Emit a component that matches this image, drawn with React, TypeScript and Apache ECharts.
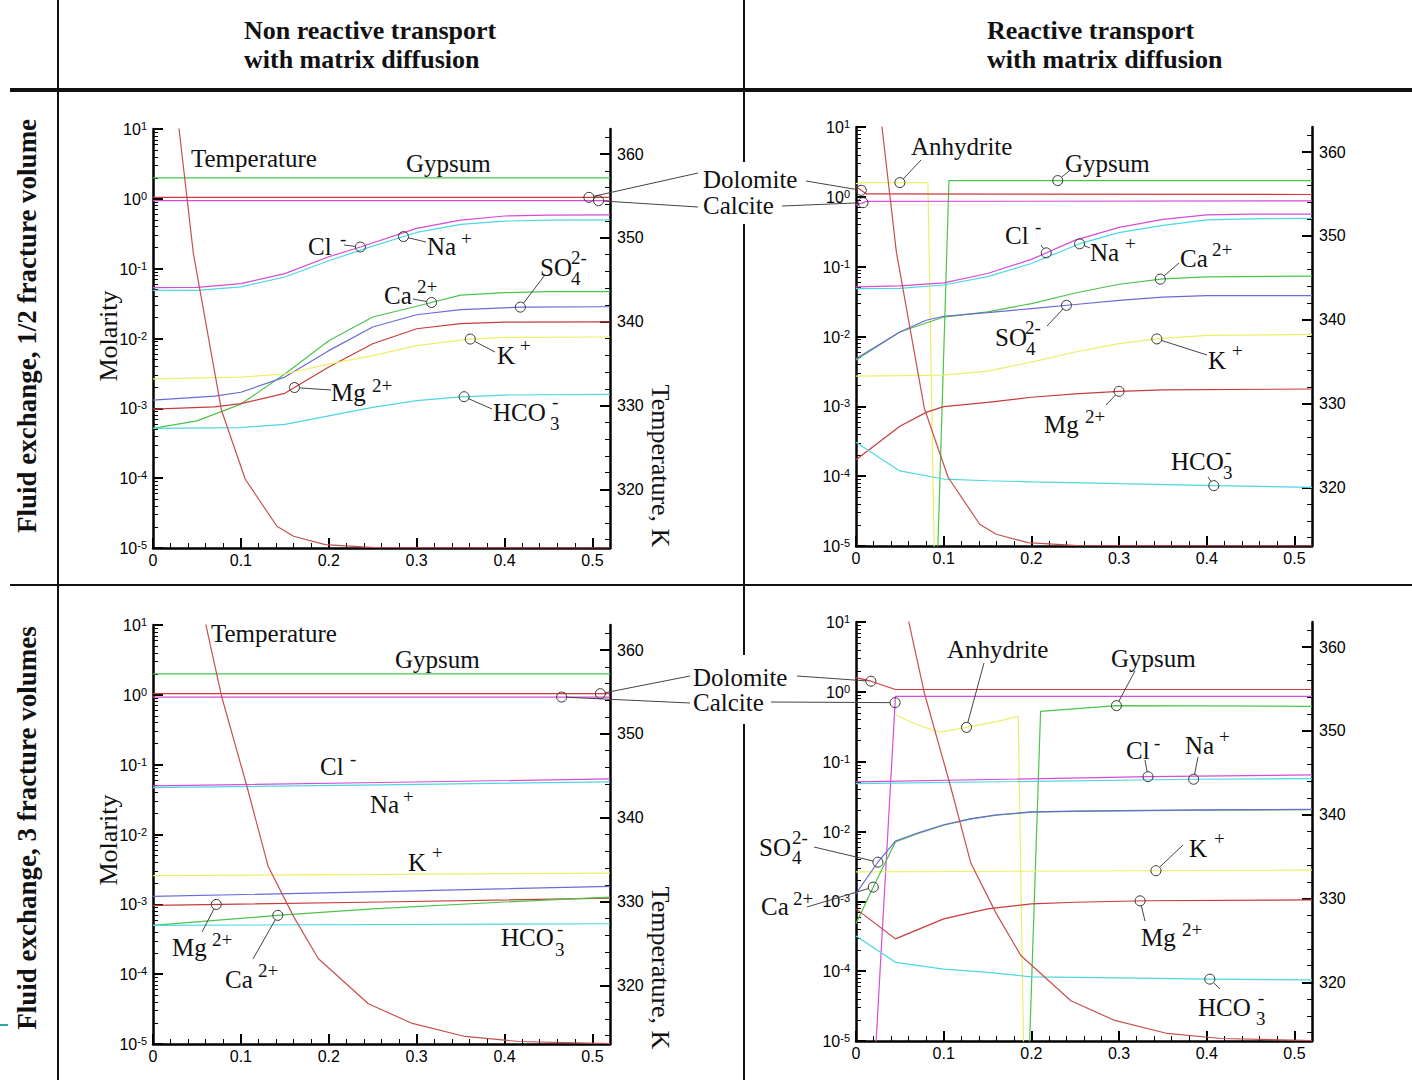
import React, { useEffect, useRef } from "react";
import * as echarts from "echarts";

type Pt = [number, number];

// ---------------- Temperature (K) ----------------
const tempTop: Pt[] = [[0, 390], [0.046, 348.1], [0.078, 329.4], [0.105, 321.2], [0.141, 315.6], [0.16, 314.4], [0.196, 313.4], [0.253, 313.05], [0.52, 313.0]];
const tempBottom: Pt[] = [[0, 420], [0.03, 385], [0.06, 363.1], [0.078, 354.5], [0.107, 343.7], [0.131, 334.2], [0.16, 328.2], [0.188, 323.2], [0.245, 317.8], [0.294, 315.5], [0.355, 313.9], [0.416, 313.3], [0.52, 313.05]];

// ---------------- Top-left: non reactive, 1/2 fracture volume ----------------
const p1Gypsum: Pt[] = [[0, 2.0], [0.52, 2.0]];
const p1Dolomite: Pt[] = [[0, 1.05], [0.52, 1.05]];
const p1Calcite: Pt[] = [[0, 0.94], [0.52, 0.94]];
const p1Cl: Pt[] = [[0, 0.0535], [0.05, 0.054], [0.1, 0.061], [0.15, 0.085], [0.2, 0.148], [0.237, 0.206], [0.3, 0.377], [0.35, 0.497], [0.4, 0.568], [0.45, 0.585], [0.52, 0.59]];
const p1Na: Pt[] = [[0, 0.049], [0.05, 0.049], [0.1, 0.055], [0.15, 0.076], [0.2, 0.13], [0.25, 0.21], [0.3, 0.33], [0.35, 0.43], [0.4, 0.48], [0.45, 0.495], [0.52, 0.5]];
const p1Ca: Pt[] = [[0, 5.15e-4], [0.05, 6.6e-4], [0.1, 1.15e-3], [0.15, 3.1e-3], [0.2, 9.3e-3], [0.25, 0.0203], [0.3, 0.029], [0.35, 0.0417], [0.4, 0.0454], [0.45, 0.047], [0.52, 0.047]];
const p1SO4: Pt[] = [[0, 1.31e-3], [0.07, 1.5e-3], [0.1, 1.7e-3], [0.15, 2.8e-3], [0.2, 6.7e-3], [0.25, 0.0146], [0.3, 0.0219], [0.35, 0.0259], [0.42, 0.0282], [0.52, 0.0285]];
const p1Mg: Pt[] = [[0, 9.75e-4], [0.07, 1.05e-3], [0.1, 1.17e-3], [0.15, 1.64e-3], [0.2, 3.9e-3], [0.25, 8.4e-3], [0.3, 0.0138], [0.35, 0.0163], [0.4, 0.0172], [0.52, 0.0173]];
const p1K: Pt[] = [[0, 2.64e-3], [0.1, 2.8e-3], [0.15, 3.1e-3], [0.2, 4.3e-3], [0.25, 5.7e-3], [0.3, 7.9e-3], [0.36, 9.8e-3], [0.4, 0.0104], [0.52, 0.0105]];
const p1HCO3: Pt[] = [[0, 5.15e-4], [0.1, 5.3e-4], [0.15, 5.9e-4], [0.2, 7.8e-4], [0.25, 1.03e-3], [0.3, 1.29e-3], [0.35, 1.46e-3], [0.4, 1.55e-3], [0.52, 1.58e-3]];

// ---------------- Top-right: reactive, 1/2 fracture volume ----------------
const p2Gypsum: Pt[] = [[0.091, 1e-6], [0.106, 1.71], [0.52, 1.71]];
const p2Anhydrite: Pt[] = [[0, 1.55], [0.01, 1.6], [0.082, 1.6], [0.0905, 1e-6]];
const p2Dolomite: Pt[] = [[0, 1.4], [0.012, 1.1], [0.52, 1.08]];
const p2Calcite: Pt[] = [[0, 0.76], [0.012, 0.86], [0.52, 0.875]];
const p2Cl: Pt[] = [[0, 0.0514], [0.05, 0.053], [0.1, 0.0586], [0.15, 0.0798], [0.2, 0.127], [0.25, 0.24], [0.3, 0.366], [0.35, 0.476], [0.4, 0.55], [0.45, 0.565], [0.52, 0.565]];
const p2Na: Pt[] = [[0, 0.0486], [0.05, 0.049], [0.1, 0.0546], [0.15, 0.072], [0.2, 0.111], [0.256, 0.215], [0.3, 0.307], [0.35, 0.39], [0.4, 0.467], [0.45, 0.485], [0.52, 0.49]];
const p2Ca: Pt[] = [[0, 4.6e-3], [0.05, 0.0116], [0.1, 0.019], [0.15, 0.0225], [0.2, 0.0296], [0.25, 0.042], [0.3, 0.056], [0.35, 0.067], [0.4, 0.0715], [0.52, 0.073]];
const p2SO4: Pt[] = [[0, 4.8e-3], [0.05, 0.0116], [0.08, 0.0171], [0.1, 0.0195], [0.15, 0.022], [0.2, 0.0251], [0.25, 0.0287], [0.3, 0.033], [0.35, 0.0366], [0.4, 0.0385], [0.52, 0.0385]];
const p2K: Pt[] = [[0, 2.7e-3], [0.1, 2.8e-3], [0.15, 3.2e-3], [0.2, 4.3e-3], [0.25, 6.0e-3], [0.3, 7.9e-3], [0.345, 9.3e-3], [0.4, 0.0104], [0.52, 0.0107]];
const p2Mg: Pt[] = [[0, 1.72e-4], [0.05, 5.2e-4], [0.08, 8.2e-4], [0.1, 9.9e-4], [0.15, 1.14e-3], [0.2, 1.35e-3], [0.25, 1.51e-3], [0.3, 1.64e-3], [0.35, 1.72e-3], [0.52, 1.77e-3]];
const p2HCO3: Pt[] = [[0, 3.05e-4], [0.05, 1.19e-4], [0.1, 9.1e-5], [0.15, 8.6e-5], [0.2, 8.3e-5], [0.3, 7.8e-5], [0.41, 7.3e-5], [0.52, 6.9e-5]];

// ---------------- Bottom-left: non reactive, 3 fracture volumes ----------------
const p3Gypsum: Pt[] = [[0, 2.0], [0.52, 2.0]];
const p3Dolomite: Pt[] = [[0, 1.04], [0.52, 1.04]];
const p3Calcite: Pt[] = [[0, 0.93], [0.52, 0.93]];
const p3Cl: Pt[] = [[0, 0.0497], [0.26, 0.0555], [0.52, 0.0625]];
const p3Na: Pt[] = [[0, 0.047], [0.26, 0.0515], [0.52, 0.0566]];
const p3K: Pt[] = [[0, 2.57e-3], [0.52, 2.8e-3]];
const p3SO4: Pt[] = [[0, 1.3e-3], [0.26, 1.52e-3], [0.52, 1.81e-3]];
const p3Mg: Pt[] = [[0, 9.66e-4], [0.26, 1.08e-3], [0.52, 1.23e-3]];
const p3Ca: Pt[] = [[0, 4.99e-4], [0.145, 7.0e-4], [0.25, 8.6e-4], [0.4, 1.08e-3], [0.52, 1.27e-3]];
const p3HCO3: Pt[] = [[0, 5.0e-4], [0.52, 5.27e-4]];

// ---------------- Bottom-right: reactive, 3 fracture volumes ----------------
const p4Dolomite: Pt[] = [[0, 1.6], [0.017, 1.42], [0.045, 1.08], [0.52, 1.08]];
const p4Calcite: Pt[] = [[0.0185, 1e-6], [0.045, 0.86], [0.52, 0.86]];
const p4Anhydrite: Pt[] = [[0.045, 0.47], [0.07, 0.338], [0.095, 0.265], [0.126, 0.31], [0.162, 0.377], [0.185, 0.445], [0.1923, 1e-6]];
const p4Gypsum: Pt[] = [[0.1954, 1e-6], [0.2105, 0.526], [0.297, 0.634], [0.52, 0.62]];
const p4Cl: Pt[] = [[0, 0.0513], [0.335, 0.061], [0.52, 0.0646]];
const p4Na: Pt[] = [[0, 0.0485], [0.385, 0.056], [0.52, 0.057]];
const p4Ca: Pt[] = [[0, 4.8e-4], [0.0197, 1.6e-3], [0.045, 7.1e-3], [0.07, 9.3e-3], [0.1, 0.0123], [0.13, 0.015], [0.16, 0.0171], [0.2, 0.0189], [0.25, 0.0194], [0.3, 0.0197], [0.4, 0.0202], [0.52, 0.0205]];
const p4SO4: Pt[] = [[0, 1.29e-3], [0.0247, 3.6e-3], [0.045, 7.3e-3], [0.07, 9.5e-3], [0.1, 0.0125], [0.13, 0.0152], [0.16, 0.0173], [0.2, 0.0191], [0.25, 0.0196], [0.3, 0.0199], [0.4, 0.0204], [0.52, 0.0207]];
const p4K: Pt[] = [[0, 2.64e-3], [0.52, 2.8e-3]];
const p4Mg: Pt[] = [[0, 7.8e-4], [0.045, 2.9e-4], [0.1, 5.6e-4], [0.15, 7.8e-4], [0.2, 9.2e-4], [0.25, 9.7e-4], [0.33, 1.02e-3], [0.52, 1.05e-3]];
const p4HCO3: Pt[] = [[0, 3.2e-4], [0.045, 1.34e-4], [0.1, 1.07e-4], [0.15, 9.6e-5], [0.2, 8.3e-5], [0.3, 8.0e-5], [0.4, 7.7e-5], [0.52, 7.5e-5]];

// ---------------- Axis ticks ----------------
const X_MAJOR = [0, 0.1, 0.2, 0.3, 0.4, 0.5];
const DECADES = [1e-5, 1e-4, 1e-3, 1e-2, 1e-1, 1, 10];
const T_MAJOR = [320, 330, 340, 350, 360];
const X_MINOR: number[] = [];
for (let i = 1; i < 26; i++) if (i % 5 !== 0) X_MINOR.push(+(i * 0.02).toFixed(2));
const LOG_MINOR: number[] = [];
for (let d = -5; d <= 0; d++) for (let m = 2; m <= 9; m++) LOG_MINOR.push(+(m * Math.pow(10, d)).toPrecision(3));
const T_MINOR: number[] = [];
for (let t = 314; t <= 362; t += 2) if (t % 10 !== 0) T_MINOR.push(t);

const C = {
  temp: "#c65050",
  gyp: "#4cc44c",
  dol: "#d03a3a",
  cal: "#d84ad8",
  cl: "#d84ad8",
  na: "#4cd8e0",
  ca: "#4cc44c",
  so4: "#6a6ad8",
  k: "#eeee6a",
  mg: "#c83c3c",
  hco3: "#4cd8e0",
  anh: "#eeee6a",
};

const PANELS = [
  { left: 153, top: 129, width: 457, height: 419 },
  { left: 856, top: 127, width: 456, height: 419 },
  { left: 153, top: 625, width: 457, height: 419 },
  { left: 856, top: 622, width: 456, height: 419 },
];

type SDef = [string, Pt[], string, boolean?];
const PANEL_SERIES: SDef[][] = [
  [["gyp", p1Gypsum, C.gyp], ["dol", p1Dolomite, C.dol], ["cal", p1Calcite, C.cal], ["na", p1Na, C.na], ["cl", p1Cl, C.cl], ["ca", p1Ca, C.ca], ["so4", p1SO4, C.so4], ["mg", p1Mg, C.mg], ["k", p1K, C.k], ["hco3", p1HCO3, C.hco3], ["temp", tempTop, C.temp, true]],
  [["gyp", p2Gypsum, C.gyp], ["anh", p2Anhydrite, C.anh], ["dol", p2Dolomite, C.dol], ["cal", p2Calcite, C.cal], ["na", p2Na, C.na], ["cl", p2Cl, C.cl], ["ca", p2Ca, C.ca], ["so4", p2SO4, C.so4], ["k", p2K, C.k], ["mg", p2Mg, C.mg], ["hco3", p2HCO3, C.hco3], ["temp", tempTop, C.temp, true]],
  [["gyp", p3Gypsum, C.gyp], ["dol", p3Dolomite, C.dol], ["cal", p3Calcite, C.cal], ["na", p3Na, C.na], ["cl", p3Cl, C.cl], ["k", p3K, C.k], ["so4", p3SO4, C.so4], ["mg", p3Mg, C.mg], ["ca", p3Ca, C.ca], ["hco3", p3HCO3, C.hco3], ["temp", tempBottom, C.temp, true]],
  [["dol", p4Dolomite, C.dol], ["cal", p4Calcite, C.cal], ["anh", p4Anhydrite, C.anh], ["gyp", p4Gypsum, C.gyp], ["na", p4Na, C.na], ["cl", p4Cl, C.cl], ["k", p4K, C.k], ["ca", p4Ca, C.ca], ["so4", p4SO4, C.so4], ["mg", p4Mg, C.mg], ["hco3", p4HCO3, C.hco3], ["temp", tempBottom, C.temp, true]],
];

// annotation texts: [text, left x, middle y, kind]
const TEXTS: [string, number, number, string][] = [
  ["Temperature", 191, 158, "m"], ["Gypsum", 406, 163, "m"],
  ["Cl", 308, 246, "m"], ["-", 340, 238, "s"],
  ["Na", 427, 246, "m"], ["+", 461, 238, "s"],
  ["Ca", 384, 295, "m"], ["2+", 417, 286, "s"],
  ["SO", 540, 267, "m"], ["4", 571, 278, "s"], ["2-", 571, 257, "s"],
  ["K", 497, 355, "m"], ["+", 520, 345, "s"],
  ["Mg", 331, 392, "m"], ["2+", 372, 385, "s"],
  ["HCO", 493, 412, "m"], ["3", 550, 423, "s"], ["-", 552, 401, "s"],
  ["Dolomite", 703, 179, "m"], ["Calcite", 703, 205, "m"],
  ["Anhydrite", 911, 146, "m"], ["Gypsum", 1065, 163, "m"],
  ["Cl", 1005, 235, "m"], ["-", 1035, 226, "s"],
  ["Na", 1090, 252, "m"], ["+", 1125, 243, "s"],
  ["Ca", 1180, 258, "m"], ["2+", 1212, 249, "s"],
  ["SO", 995, 337, "m"], ["4", 1026, 348, "s"], ["2-", 1025, 327, "s"],
  ["K", 1208, 360, "m"], ["+", 1232, 350, "s"],
  ["Mg", 1044, 424, "m"], ["2+", 1085, 416, "s"],
  ["HCO", 1171, 461, "m"], ["3", 1223, 472, "s"], ["-", 1225, 451, "s"],
  ["Temperature", 211, 633, "m"], ["Gypsum", 395, 659, "m"],
  ["Dolomite", 693, 677, "m"], ["Calcite", 693, 702, "m"],
  ["Cl", 320, 766, "m"], ["-", 350, 758, "s"],
  ["Na", 370, 804, "m"], ["+", 403, 796, "s"],
  ["K", 408, 862, "m"], ["+", 432, 852, "s"],
  ["Mg", 172, 947, "m"], ["2+", 212, 939, "s"],
  ["Ca", 225, 979, "m"], ["2+", 258, 970, "s"],
  ["HCO", 501, 937, "m"], ["3", 555, 949, "s"], ["-", 557, 928, "s"],
  ["Anhydrite", 947, 649, "m"], ["Gypsum", 1111, 658, "m"],
  ["Cl", 1126, 750, "m"], ["-", 1154, 742, "s"],
  ["Na", 1185, 745, "m"], ["+", 1219, 736, "s"],
  ["SO", 759, 847, "m"], ["4", 792, 857, "s"], ["2-", 792, 837, "s"],
  ["Ca", 761, 906, "m"], ["2+", 793, 898, "s"],
  ["K", 1189, 848, "m"], ["+", 1214, 838, "s"],
  ["Mg", 1141, 937, "m"], ["2+", 1182, 929, "s"],
  ["HCO", 1198, 1007, "m"], ["3", 1256, 1018, "s"], ["-", 1258, 997, "s"],
];

// markers: [panel, series key, x value, leader end x, leader end y]
const MARKS: [number, string, number, number, number][] = [
  [0, "dol", 0.496, 698, 173], [0, "cal", 0.507, 698, 207],
  [1, "dol", 0.006, 806, 181], [1, "cal", 0.008, 782, 206],
  [0, "cl", 0.236, 344, 245], [0, "na", 0.285, 426, 242], [0, "ca", 0.317, 413, 299], [0, "so4", 0.418, 545, 275],
  [0, "k", 0.361, 495, 352], [0, "mg", 0.161, 331, 390], [0, "hco3", 0.354, 492, 409],
  [1, "anh", 0.05, 921, 160], [1, "gyp", 0.23, 1069, 171], [1, "cl", 0.217, 1041, 245], [1, "na", 0.255, 1090, 248],
  [1, "ca", 0.347, 1179, 263], [1, "so4", 0.24, 1047, 326], [1, "k", 0.343, 1207, 355], [1, "mg", 0.3, 1106, 405], [1, "hco3", 0.408, 1208, 477],
  [2, "dol", 0.509, 690, 676], [2, "cal", 0.465, 690, 703],
  [3, "dol", 0.017, 797, 676], [3, "cal", 0.0446, 771, 702],
  [2, "mg", 0.072, 202, 932], [2, "ca", 0.142, 253, 959],
  [3, "anh", 0.126, 984, 663], [3, "gyp", 0.297, 1135, 671], [3, "cl", 0.333, 1145, 760], [3, "na", 0.385, 1198, 757],
  [3, "so4", 0.025, 814, 847], [3, "ca", 0.0197, 807, 907], [3, "k", 0.342, 1183, 845], [3, "mg", 0.324, 1145, 921], [3, "hco3", 0.4035, 1220, 989],
];

const SERIF = '"Liberation Serif", "Times New Roman", Times, serif';
const SANS = '"Liberation Sans", Arial, Helvetica, sans-serif';

function valueAt(data: Pt[], x: number): number {
  for (let i = 0; i < data.length - 1; i++) {
    const [x0, y0] = data[i];
    const [x1, y1] = data[i + 1];
    if (x >= x0 && x <= x1) {
      const t = (x - x0) / (x1 - x0);
      return Math.pow(10, Math.log10(y0) + t * (Math.log10(y1) - Math.log10(y0)));
    }
  }
  return data[data.length - 1][1];
}

function lineEl(x1: number, y1: number, x2: number, y2: number, w: number, color = "#111") {
  return { type: "line", silent: true, z: 100, shape: { x1, y1, x2, y2 }, style: { stroke: color, lineWidth: w } };
}

function textEl(text: string, x: number, y: number, size: number, opts: any = {}) {
  const align = opts.align || "left";
  return {
    type: "text",
    silent: true,
    z: 101,
    x,
    y,
    rotation: opts.rotation || 0,
    style: {
      text,
      fontSize: size,
      lineHeight: size,
      fontFamily: opts.family || SERIF,
      fontWeight: opts.bold ? "bold" : "normal",
      fill: "#111",
      textAlign: align,
      align,
      textVerticalAlign: "middle",
      verticalAlign: "middle",
    },
  };
}

function buildStatic() {
  const g: any[] = [];
  // table frame
  g.push(lineEl(58, 0, 58, 1080, 2));
  g.push(lineEl(744, 0, 744, 162, 2));
  g.push(lineEl(744, 224, 744, 655, 2));
  g.push(lineEl(744, 724, 744, 1080, 2));
  g.push(lineEl(10, 90, 1412, 90, 4));
  g.push(lineEl(10, 585, 1412, 585, 2));
  g.push(lineEl(0, 1025, 8, 1025, 2, "#2aa6a6"));
  // headers
  g.push(textEl("Non reactive transport", 244, 30, 26, { bold: true }));
  g.push(textEl("with matrix diffusion", 244, 59, 26, { bold: true }));
  g.push(textEl("Reactive transport", 987, 30, 26, { bold: true }));
  g.push(textEl("with matrix diffusion", 987, 59, 26, { bold: true }));
  // row labels
  g.push(textEl("Fluid exchange, 1/2 fracture volume", 27, 326, 27, { bold: true, align: "center", rotation: Math.PI / 2 }));
  g.push(textEl("Fluid exchange, 3 fracture volumes", 27, 828, 27, { bold: true, align: "center", rotation: Math.PI / 2 }));
  // axis titles
  g.push(textEl("Molarity", 108, 336, 26, { align: "center", rotation: Math.PI / 2 }));
  g.push(textEl("Molarity", 108, 840, 26, { align: "center", rotation: Math.PI / 2 }));
  g.push(textEl("Temperature, K", 660, 466, 26, { align: "center", rotation: -Math.PI / 2 }));
  g.push(textEl("Temperature, K", 660, 968, 26, { align: "center", rotation: -Math.PI / 2 }));
  // annotations
  TEXTS.forEach(([t, x, y, kind]) => g.push(textEl(t, x, y, kind === "m" ? 25 : 19)));
  return g;
}

const tickLabel = { color: "#000", fontFamily: SANS, fontSize: 16 };

function buildOption() {
  const xAxis: any[] = [];
  const yAxis: any[] = [];
  const series: any[] = [];
  const index: Record<string, number> = {};
  const datas: Record<string, Pt[]> = {};
  PANELS.forEach((_, p) => {
    xAxis.push({
      type: "value", gridIndex: p, position: "bottom", min: 0, max: 0.52,
      axisLine: { show: true, onZero: false, lineStyle: { color: "#000", width: 2.5 } },
      axisTick: { show: true, inside: true, length: 10, customValues: X_MAJOR, lineStyle: { color: "#000", width: 2 } },
      axisLabel: { show: true, customValues: X_MAJOR, margin: 4, ...tickLabel, formatter: (v: number) => String(Math.round(v * 10) / 10) },
      splitLine: { show: false },
    });
    xAxis.push({
      type: "value", gridIndex: p, position: "bottom", min: 0, max: 0.52,
      axisLine: { show: false, onZero: false },
      axisTick: { show: true, inside: true, length: 5, customValues: X_MINOR, lineStyle: { color: "#000", width: 1 } },
      axisLabel: { show: false },
      splitLine: { show: false },
    });
    yAxis.push({
      type: "log", logBase: 10, gridIndex: p, position: "left", min: 1e-5, max: 10,
      axisLine: { show: true, onZero: false, lineStyle: { color: "#000", width: 2.5 } },
      axisTick: { show: true, inside: true, length: 10, customValues: DECADES, lineStyle: { color: "#000", width: 2 } },
      axisLabel: {
        show: true, customValues: DECADES, margin: 6,
        formatter: (v: number) => `{b|10}{s|${Math.round(Math.log10(v))}}`,
        rich: {
          b: { ...tickLabel, fontSize: 16, lineHeight: 17, verticalAlign: "bottom" },
          s: { ...tickLabel, fontSize: 11, lineHeight: 11, verticalAlign: "top", padding: [0, 0, 8, 0] },
        },
      },
      splitLine: { show: false },
    });
    yAxis.push({
      type: "log", logBase: 10, gridIndex: p, position: "left", min: 1e-5, max: 10,
      axisLine: { show: false, onZero: false },
      axisTick: { show: true, inside: true, length: 5, customValues: LOG_MINOR, lineStyle: { color: "#000", width: 1 } },
      axisLabel: { show: false },
      splitLine: { show: false },
    });
    yAxis.push({
      type: "value", gridIndex: p, position: "right", min: 313, max: 363,
      axisLine: { show: true, onZero: false, lineStyle: { color: "#000", width: 2.5 } },
      axisTick: { show: true, inside: true, length: 10, customValues: T_MAJOR, lineStyle: { color: "#000", width: 2 } },
      axisLabel: { show: true, customValues: T_MAJOR, margin: 7, ...tickLabel },
      splitLine: { show: false },
    });
    yAxis.push({
      type: "value", gridIndex: p, position: "right", min: 313, max: 363,
      axisLine: { show: false, onZero: false },
      axisTick: { show: true, inside: true, length: 5, customValues: T_MINOR, lineStyle: { color: "#000", width: 1 } },
      axisLabel: { show: false },
      splitLine: { show: false },
    });
    PANEL_SERIES[p].forEach(([key, data, color, isTemp]) => {
      index[`${p}:${key}`] = series.length;
      datas[`${p}:${key}`] = data;
      series.push({
        type: "line",
        xAxisIndex: 2 * p,
        yAxisIndex: isTemp ? 4 * p + 2 : 4 * p,
        data,
        symbol: "none",
        showSymbol: false,
        silent: true,
        clip: true,
        z: 3,
        lineStyle: { color, width: 1.2 },
        itemStyle: { color },
      });
    });
  });
  const option = {
    animation: false,
    backgroundColor: "#ffffff",
    grid: PANELS.map((g) => ({ ...g, containLabel: false, outerBoundsMode: "none" })),
    xAxis,
    yAxis,
    series,
    graphic: { elements: buildStatic() },
  };
  return { option, index, datas };
}

export default function App() {
  const ref = useRef<HTMLDivElement>(null);
  useEffect(() => {
    if (!ref.current) return;
    const chart = echarts.init(ref.current, undefined, { renderer: "svg" });
    const { option, index, datas } = buildOption();
    chart.setOption(option as any);
    const dyn: any[] = [];
    const R = 5;
    MARKS.forEach(([p, key, x, lx, ly]) => {
      const k = `${p}:${key}`;
      const y = valueAt(datas[k], x);
      const pt = chart.convertToPixel({ seriesIndex: index[k] } as any, [x, y]) as number[];
      if (!pt) return;
      const [mx, my] = pt;
      dyn.push({ type: "circle", silent: true, z: 102, shape: { cx: mx, cy: my, r: R }, style: { fill: "none", stroke: "#333", lineWidth: 1 } });
      const dx = mx - lx;
      const dy = my - ly;
      const d = Math.hypot(dx, dy) || 1;
      dyn.push({ type: "line", silent: true, z: 102, shape: { x1: lx, y1: ly, x2: mx - (dx / d) * R, y2: my - (dy / d) * R }, style: { stroke: "#444", lineWidth: 1 } });
    });
    chart.setOption({ graphic: { elements: [...buildStatic(), ...dyn] } } as any);
    return () => chart.dispose();
  }, []);
  return <div ref={ref} style={{ position: "absolute", left: 0, top: 0, width: 1412, height: 1080, background: "#fff" }} />;
}
